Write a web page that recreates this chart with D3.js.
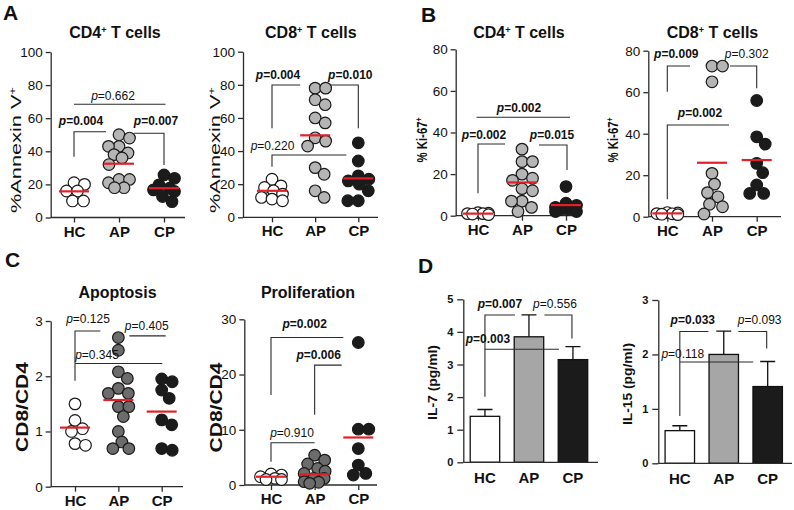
<!DOCTYPE html>
<html><head><meta charset="utf-8">
<script src="https://cdn.jsdelivr.net/npm/d3@7"></script>
<style>
body{margin:0;background:#fff}
svg{display:block}
text{font-family:"Liberation Sans",Arial,Helvetica,sans-serif;fill:#111}
</style>
</head><body>
<svg id="c" width="794" height="510"></svg>
<script>
// ---------------- DATA ----------------
const categories = ["HC", "AP", "CP"];

// A: % Annexin V+
const annexCD4_HC = [21, 20, 16, 16, 10, 10];
const annexCD4_AP = [50, 48, 43, 43, 39, 38, 36, 32, 23, 23, 21, 18, 18];
const annexCD4_CP = [25.7, 23.7, 19.7, 17.7, 16.7, 15.7, 12.7, 9.6];
const annexCD4_mean = [15.8, 32.5, 17.7];

const annexCD8_HC = [23, 19, 18, 16, 14, 12, 11, 10];
const annexCD8_AP = [78, 78, 71, 68, 60, 57, 48, 46, 43, 30, 26, 16, 12];
const annexCD8_CP = [45, 34, 25, 23, 22, 20, 16, 10, 10];
const annexCD8_mean = [16, 49.5, 23.5];

// B: % Ki-67+
const ki67CD4_HC = [1.5, 1.2, 1, 1, 0.8, 0.5];
const ki67CD4_AP = [32, 26, 26, 20, 18, 17, 13, 12, 7, 7, 4, 2];
const ki67CD4_CP = [14, 6, 5, 4, 3, 3, 2, 2];
const ki67CD4_mean = [1, 16, 5.1];

const ki67CD8_HC = [2, 1.8, 1.5, 1.4, 1.2, 1];
const ki67CD8_AP = [72.6, 72.6, 65, 20.9, 15.7, 11.6, 9.6, 6, 4.8, 1.3];
const ki67CD8_CP = [56, 38.5, 35, 25.7, 21.2, 15.3, 11.2, 11.2];
const ki67CD8_mean = [1.6, 26, 27.3];

// C: CD8/CD4 ratios
const apopHC = [1.5, 1.2, 1.05, 1.0, 0.78, 0.75];
const apopAP = [2.70, 2.47, 2.08, 1.96, 1.78, 1.69, 1.69, 1.45, 1.45, 1.27, 1.0, 0.81, 0.69, 0.69];
const apopCP = [1.95, 1.9, 1.75, 1.6, 1.21, 1.12, 0.69, 0.66];
const apop_mean = [1.07, 1.57, 1.36];

const prolifHC = [2, 1.8, 1.5, 1.2, 1, 1];
const prolifAP = [5.4, 4.5, 3.8, 3.0, 2.5, 2.1, 1.2, 1.2, 0.6, 0.5, 0.3];
const prolifCP = [25.8, 10.1, 10.1, 6.6, 3.6, 2.1, 1.8];
const prolif_mean = [1.5, 1.93, 8.6];

// D: cytokines (mean, SEM)
const il7_mean = [1.41, 3.85, 3.15];
const il7_sem = [0.21, 0.67, 0.40];
const il15_mean = [0.6, 2.0, 1.41];
const il15_sem = [0.09, 0.43, 0.46];

// tick labels
const ticksAnnex = [0, 20, 40, 60, 80, 100];
const ticksKi67 = [0, 20, 40, 60, 80];
const ticksApop = [0, 1, 2, 3];
const ticksProlif = [0, 10, 20, 30];
const ticksIL7 = [0, 1, 2, 3, 4, 5];
const ticksIL15 = [0, 1, 2, 3];

// ---------------- DRAWING ----------------
const svg = d3.select("#c");
const AXC = "#2b2b2b";
const FILL = {HC: "#ffffff", AP: "#b5b5b5", CP: "#1b1b1b"};
const fmtInt = d3.format("d");

function addRich(sel, parts) {
  parts.forEach(p => {
    const t = sel.append("tspan").text(p[0]);
    const o = p[1] || {};
    if (o.sup) { t.attr("baseline-shift", "super").attr("font-size", o.sup); }
    if (o.italic) t.attr("font-style", "italic");
  });
}

function pText(g, x, y, str, bold) {
  const t = g.append("text").attr("x", x).attr("y", y).attr("text-anchor", "middle")
    .attr("font-size", 12).attr("font-weight", bold ? "bold" : "normal");
  t.append("tspan").attr("font-style", "italic").text("p");
  t.append("tspan").text("=" + str);
}

function swarm(vals, y, cx, minDist, maxOff) {
  const order = vals.map((v, i) => i).sort((a, b) => vals[b] - vals[a]);
  const cands = [0];
  for (let k = 0.5; k <= maxOff; k += 0.5) cands.push(k, -k);
  const placed = [];
  order.forEach(i => {
    const py = y(vals[i]);
    let best = 0, bestPen = Infinity;
    for (const dx of cands) {
      let pen = 0;
      for (const p of placed) {
        const d = Math.hypot(p.x - (cx + dx), p.y - py);
        if (d < minDist) pen += (minDist - d) * (minDist - d);
      }
      if (pen < bestPen - 1e-9) { bestPen = pen; best = dx; }
      if (pen === 0) break;
    }
    placed.push({x: cx + best, y: py});
  });
  return placed;
}

function yLabel(g, cfg) {
  const t = g.append("text")
    .attr("transform", `translate(${cfg.x},${cfg.y}) rotate(-90)`)
    .attr("text-anchor", "middle")
    .attr("font-size", cfg.size)
    .attr("font-weight", cfg.bold ? "bold" : "normal");
  if (cfg.len) t.attr("textLength", cfg.len).attr("lengthAdjust", "spacingAndGlyphs");
  addRich(t, cfg.parts);
}

function brackets(g, x, y, list) {
  list.forEach(b => {
    const pts = b.path.map(p => [x(p[0]) + p[1], y(p[2])]);
    g.append("path").attr("d", d3.line()(pts)).attr("fill", "none")
      .attr("stroke", AXC).attr("stroke-width", 1.1);
    pText(g, x(b.label[0]) + b.label[1], y(b.label[2]), b.label[3], b.bold);
  });
}

function scatterPanel(cfg) {
  const g = svg.append("g");
  const y = d3.scaleLinear().domain(cfg.domain).range([cfg.y0, cfg.yTop]);
  const x = d3.scalePoint().domain(categories).range(cfg.cats);

  const ya = g.append("g").attr("transform", `translate(${cfg.x0},0)`)
    .call(d3.axisLeft(y).tickValues(cfg.ticks).tickFormat(fmtInt).tickSize(5).tickPadding(3).tickSizeOuter(0));
  ya.select(".domain").attr("stroke", AXC).attr("stroke-width", 1.3);
  ya.selectAll(".tick line").attr("stroke", AXC).attr("stroke-width", 1.3);
  ya.selectAll(".tick text").attr("font-size", 13.5).attr("fill", "#1a1a1a")
    .attr("font-family", '"Liberation Sans",Arial,sans-serif');

  const xa = g.append("g").attr("transform", `translate(0,${cfg.y0})`)
    .call(d3.axisBottom(x).tickSize(5).tickPadding(5).tickSizeOuter(0));
  xa.select(".domain").remove();
  xa.selectAll(".tick line").attr("stroke", AXC).attr("stroke-width", 1.3);
  xa.selectAll(".tick text").attr("font-size", 15).attr("font-weight", "bold").attr("fill", "#111")
    .attr("font-family", '"Liberation Sans",Arial,sans-serif').attr("dy", "0.6em");
  g.append("line").attr("x1", cfg.x0).attr("x2", cfg.xEnd).attr("y1", cfg.y0).attr("y2", cfg.y0)
    .attr("stroke", AXC).attr("stroke-width", 1.3);

  if (cfg.title) {
    const t = g.append("text").attr("x", cfg.titleX).attr("y", cfg.titleY).attr("text-anchor", "middle")
      .attr("font-size", 16).attr("font-weight", "bold");
    addRich(t, cfg.title);
  }
  yLabel(g, cfg.yl);

  categories.forEach((c, i) => {
    const pts = swarm(cfg.groups[i], y, x(c), 11, 10.5);
    g.selectAll(null).data(pts).join("circle")
      .attr("cx", d => d.x).attr("cy", d => d.y).attr("r", 5.8)
      .attr("fill", i === 1 ? (cfg.apFill || FILL.AP) : FILL[c])
      .attr("stroke", "#1a1a1a").attr("stroke-width", 1.2);
  });
  g.selectAll(null).data(cfg.means).join("line")
    .attr("x1", (d, i) => x(categories[i]) - 15).attr("x2", (d, i) => x(categories[i]) + 15)
    .attr("y1", d => y(d)).attr("y2", d => y(d))
    .attr("stroke", "#e3202a").attr("stroke-width", 2.2);

  brackets(g, x, y, cfg.brackets);
}

function barPanel(cfg) {
  const g = svg.append("g");
  const y = d3.scaleLinear().domain(cfg.domain).range([cfg.y0, cfg.yTop]);
  const x = d3.scaleBand().domain(categories).range(cfg.band).paddingInner(0.33).paddingOuter(0.15);
  const xc = c => x(c) + x.bandwidth() / 2;

  g.selectAll(null).data(cfg.means).join("path")
    .attr("d", (d, i) => {
      const cx = xc(categories[i]), top = y(d + cfg.sem[i]);
      return `M${cx},${y(d)}V${top}M${cx - 7.5},${top}H${cx + 7.5}`;
    })
    .attr("stroke", "#111").attr("stroke-width", 1.3).attr("fill", "none");
  const bf = ["#ffffff", "#a6a6a6", "#1b1b1b"];
  g.selectAll(null).data(cfg.means).join("rect")
    .attr("x", (d, i) => x(categories[i])).attr("width", x.bandwidth())
    .attr("y", d => y(d)).attr("height", d => cfg.y0 - y(d))
    .attr("fill", (d, i) => bf[i]).attr("stroke", "#111").attr("stroke-width", 1.3);

  const ya = g.append("g").attr("transform", `translate(${cfg.x0},0)`)
    .call(d3.axisLeft(y).tickValues(cfg.ticks).tickFormat(fmtInt).tickSize(6).tickPadding(4).tickSizeOuter(0));
  ya.select(".domain").attr("stroke", AXC).attr("stroke-width", 1.3);
  ya.selectAll(".tick line").attr("stroke", AXC).attr("stroke-width", 1.3);
  ya.selectAll(".tick text").attr("font-size", 11).attr("font-weight", "bold").attr("fill", "#1a1a1a")
    .attr("font-family", '"Liberation Sans",Arial,sans-serif');

  const xa = g.append("g").attr("transform", `translate(0,${cfg.y0})`)
    .call(d3.axisBottom(x).tickSize(0).tickPadding(8).tickSizeOuter(0));
  xa.select(".domain").remove();
  xa.selectAll(".tick text").attr("font-size", 15).attr("font-weight", "bold").attr("fill", "#111")
    .attr("font-family", '"Liberation Sans",Arial,sans-serif').attr("dy", "0.85em");
  g.append("line").attr("x1", cfg.x0).attr("x2", cfg.xEnd).attr("y1", cfg.y0).attr("y2", cfg.y0)
    .attr("stroke", AXC).attr("stroke-width", 1.3);

  yLabel(g, cfg.yl);
  brackets(g, xc, y, cfg.brackets);
}

[["A", 3, 20], ["B", 421, 22], ["C", 5, 267], ["D", 418, 273]].forEach(l =>
  svg.append("text").attr("x", l[1]).attr("y", l[2]).attr("font-size", 21).attr("font-weight", "bold").text(l[0]));

const sup = {sup: 9};

scatterPanel({
  x0: 50.7, xEnd: 185, y0: 217.5, yTop: 52, domain: [0, 100], ticks: ticksAnnex, cats: [74, 164],
  groups: [annexCD4_HC, annexCD4_AP, annexCD4_CP], means: annexCD4_mean,
  title: [["CD4"], ["+", sup], [" T cells"]], titleX: 115, titleY: 38,
  yl: {x: 20.5, y: 150, size: 15, len: 126, parts: [["%Annexin V"], ["+", sup]]},
  brackets: [
    {path: [["HC", 0, 68.4], ["CP", 1.5, 68.4]], label: ["AP", -6, 71, "0.662"], bold: false},
    {path: [["HC", 0, 36.7], ["HC", 0, 51.8], ["AP", -13, 51.8]], label: ["HC", 7, 55.9, "0.004"], bold: true},
    {path: [["AP", 15, 50.9], ["CP", 0, 50.9], ["CP", 0, 31.7]], label: ["CP", -8, 55.9, "0.007"], bold: true}
  ]
});

scatterPanel({
  x0: 243, xEnd: 378, y0: 217.3, yTop: 51.7, domain: [0, 100], ticks: ticksAnnex, cats: [272, 358.3],
  groups: [annexCD8_HC, annexCD8_AP, annexCD8_CP], means: annexCD8_mean,
  title: [["CD8"], ["+", sup], [" T cells"]], titleX: 310.8, titleY: 38,
  yl: {x: 220, y: 150, size: 15, len: 126, parts: [["%Annexin V"], ["+", sup]]},
  brackets: [
    {path: [["HC", 0, 53.7], ["HC", 0, 79.9], ["AP", -15, 79.9]], label: ["HC", 6, 83.4, "0.004"], bold: true},
    {path: [["AP", 15, 79.9], ["CP", 0, 79.9], ["CP", 0, 53.7]], label: ["CP", -8, 83.4, "0.010"], bold: true},
    {path: [["HC", 0, 30.6], ["HC", 0, 37.6], ["CP", -12, 37.6]], label: ["HC", 0.5, 40.6, "0.220"], bold: false}
  ]
});

scatterPanel({
  x0: 455.7, xEnd: 580, y0: 215.7, yTop: 49.3, domain: [0, 80], ticks: ticksKi67, cats: [478, 566],
  groups: [ki67CD4_HC, ki67CD4_AP, ki67CD4_CP], means: ki67CD4_mean,
  title: [["CD4"], ["+", sup], [" T cells"]], titleX: 519, titleY: 38,
  yl: {x: 427, y: 140, size: 15, bold: true, len: 45, parts: [["% Ki-67"], ["+", sup]]},
  brackets: [
    {path: [["HC", -1.5, 47.3], ["CP", 4, 47.3]], label: ["AP", -3, 50, "0.002"], bold: true},
    {path: [["HC", 0, 10.8], ["HC", 0, 34.5], ["AP", -17, 34.5]], label: ["HC", 6, 36.7, "0.002"], bold: true},
    {path: [["AP", 17, 34], ["CP", 1, 34], ["CP", 1, 22]], label: ["CP", -14, 36.7, "0.015"], bold: true}
  ]
});

scatterPanel({
  x0: 648.3, xEnd: 781, y0: 216.7, yTop: 50.7, domain: [0, 80], ticks: ticksKi67, cats: [667.3, 756.7],
  groups: [ki67CD8_HC, ki67CD8_AP, ki67CD8_CP], means: ki67CD8_mean,
  title: [["CD8"], ["+", sup], [" T cells"]], titleX: 712.5, titleY: 38,
  yl: {x: 618, y: 140, size: 15, bold: true, len: 45, parts: [["% Ki-67"], ["+", sup]]},
  brackets: [
    {path: [["HC", 0, 60.2], ["HC", 0, 72.6], ["AP", -22, 72.6]], label: ["HC", 9, 76.6, "0.009"], bold: true},
    {path: [["AP", 18, 72.6], ["CP", 0, 72.6], ["CP", 0, 61.9]], label: ["CP", -10, 76.6, "0.302"], bold: false},
    {path: [["HC", 0, 8.4], ["HC", 0, 44.2], ["AP", 17, 44.2]], label: ["AP", -12, 48.2, "0.002"], bold: true}
  ]
});

scatterPanel({
  x0: 50.7, xEnd: 183, y0: 486.7, yTop: 321, domain: [0, 3], ticks: ticksApop, cats: [75, 161.7],
  groups: [apopHC, apopAP, apopCP], means: apop_mean, apFill: "#6c6c6c",
  title: [["Apoptosis"]], titleX: 117.5, titleY: 297.5,
  yl: {x: 28, y: 407, size: 17, bold: true, len: 90, parts: [["CD8/CD4"]]},
  brackets: [
    {path: [["HC", 0, 1.92], ["HC", 0, 2.82], ["AP", -18, 2.82]], label: ["HC", 13, 2.96, "0.125"], bold: false},
    {path: [["AP", 11, 2.73], ["CP", 4, 2.73]], label: ["CP", -15, 2.84, "0.405"], bold: false},
    {path: [["HC", 0, 2.23], ["CP", 0.6, 2.23]], label: ["HC", 22, 2.31, "0.345"], bold: false}
  ]
});

scatterPanel({
  x0: 244.3, xEnd: 377, y0: 485, yTop: 319.3, domain: [0, 30], ticks: ticksProlif, cats: [271, 358.3],
  groups: [prolifHC, prolifAP, prolifCP], means: prolif_mean, apFill: "#6c6c6c",
  title: [["Proliferation"]], titleX: 308, titleY: 297.5,
  yl: {x: 222, y: 407.5, size: 17, bold: true, len: 90, parts: [["CD8/CD4"]]},
  brackets: [
    {path: [["HC", 0, 16.3], ["HC", 0, 26.7], ["CP", -15, 26.7]], label: ["AP", -10, 28.4, "0.002"], bold: true},
    {path: [["AP", 0, 12.7], ["AP", 0, 21.7], ["CP", -16.6, 21.7]], label: ["AP", 4, 22.8, "0.006"], bold: true},
    {path: [["HC", 0, 4.2], ["HC", 0, 7.66], ["AP", 0, 7.66]], label: ["HC", 21, 8.75, "0.910"], bold: false}
  ]
});

barPanel({
  x0: 463.3, xEnd: 598, y0: 462.3, yTop: 299.3, domain: [0, 5], ticks: ticksIL7, band: [463.6, 594.3],
  means: il7_mean, sem: il7_sem,
  yl: {x: 437, y: 382.5, size: 13.5, bold: true, len: 75, parts: [["IL-7 (pg/ml)"]]},
  brackets: [
    {path: [["HC", 0, 2.01], ["HC", 0, 4.52], ["AP", -14, 4.52]], label: ["HC", 15, 4.72, "0.007"], bold: true},
    {path: [["AP", 15.5, 4.52], ["CP", -1, 4.52], ["CP", -1, 3.80]], label: ["CP", -18, 4.72, "0.556"], bold: false},
    {path: [["HC", 0, 3.47], ["CP", -14, 3.47]], label: ["HC", 3, 3.65, "0.003"], bold: true}
  ]
});

barPanel({
  x0: 658.3, xEnd: 792, y0: 463.3, yTop: 300, domain: [0, 3], ticks: ticksIL15, band: [658.5, 789],
  means: il15_mean, sem: il15_sem,
  yl: {x: 632, y: 384, size: 13.5, bold: true, len: 82, parts: [["IL-15 (pg/ml)"]]},
  brackets: [
    {path: [["HC", 0, 0.87], ["HC", 0, 2.42], ["AP", -15.4, 2.42]], label: ["HC", 13, 2.55, "0.033"], bold: true},
    {path: [["AP", 14.6, 2.42], ["CP", -1, 2.42], ["CP", -1, 2.11]], label: ["CP", -8, 2.55, "0.093"], bold: false},
    {path: [["HC", 0, 1.86], ["CP", -14.5, 1.86]], label: ["HC", 3, 1.93, "0.118"], bold: false}
  ]
});
</script>
</body></html>
